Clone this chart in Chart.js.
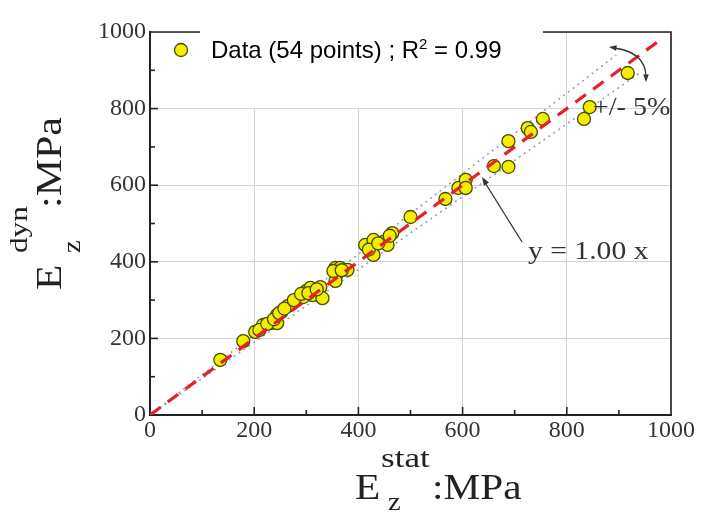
<!DOCTYPE html>
<html><head><meta charset="utf-8">
<script src="https://cdn.jsdelivr.net/npm/chart.js@4/dist/chart.umd.min.js"></script>
<style>html,body{margin:0;padding:0;background:#fff}</style>
</head><body>
<canvas id="c" width="704" height="514"></canvas>
<script>
// ---- data ----
const statValues = [135,179,202,217,231,244,244,252,265,294,300,308,312,327,331,356,365,358,379,356,
  413,429,429,448,456,465,500,567,592,606,606,660,688,688,725,731,754,833,844,917,
  210,225,238,248,258,276,290,304,320,352,368,420,438,460];
const dynValues = [144,193,217,235,240,240,261,269,285,308,324,332,313,334,305,384,384,366,379,350,
  444,457,418,452,444,475,517,564,593,614,593,650,648,715,749,739,773,773,804,893,
  222,238,250,266,278,300,316,318,328,376,378,432,448,468];
const tickValues = [0,200,400,600,800,1000];
const minorTickValues = [100,300,500,700,900];
const identityX = [0,975];
const identityY = [0,975];
const upperX = [0,895];
const upperY = [0,940];
const lowerX = [0,940];
const lowerY = [0,893];
const legendText = ['Data (54 points) ; R', '2', ' = 0.99'];
const fitLabel = 'y = 1.00 x';
const bandLabel = '+/- 5%';

const pts = statValues.map((x,i)=>({x, y: dynValues[i]}));
const toXY = (xs,ys)=>xs.map((x,i)=>({x,y:ys[i]}));

const SERIF = '"Liberation Serif", "DejaVu Serif", serif';
const SANS = '"Liberation Sans", Arial, sans-serif';

function arrowHead(ctx, x, y, ang, len){
  ctx.beginPath();
  ctx.moveTo(x,y);
  ctx.lineTo(x - len*Math.cos(ang-0.35), y - len*Math.sin(ang-0.35));
  ctx.lineTo(x - len*Math.cos(ang+0.35), y - len*Math.sin(ang+0.35));
  ctx.closePath();
  ctx.fill();
}
function txt(ctx, s, x, y, size, sx){
  ctx.save();
  ctx.translate(x, y); ctx.scale(sx, 1);
  ctx.font = size + 'px ' + SERIF;
  ctx.fillText(s, 0, 0);
  ctx.restore();
}

const decor = {
  id:'decor',
  afterDraw(chart){
    const ctx = chart.ctx, xs = chart.scales.x, ys = chart.scales.y, a = chart.chartArea;
    ctx.save();
    // top & right borders
    ctx.strokeStyle = '#222'; ctx.lineWidth = 1.6;
    ctx.beginPath(); ctx.moveTo(a.left, a.top); ctx.lineTo(a.right, a.top); ctx.lineTo(a.right, a.bottom); ctx.stroke();
    // inward ticks
    const all = tickValues.slice(1,-1).map(v=>[v,8]).concat(minorTickValues.map(v=>[v,5]));
    all.forEach(([v,l])=>{
      const px = xs.getPixelForValue(v), py = ys.getPixelForValue(v);
      ctx.beginPath(); ctx.moveTo(px, a.bottom); ctx.lineTo(px, a.bottom - l); ctx.stroke();
      ctx.beginPath(); ctx.moveTo(a.left, py); ctx.lineTo(a.left + l, py); ctx.stroke();
    });
    // legend box
    ctx.fillStyle = '#fff';
    ctx.fillRect(200, 17, 343, 91);
    ctx.fillRect(160, 36, 45, 72);
    ctx.beginPath(); ctx.arc(181, 50, 6.5, 0, Math.PI*2);
    ctx.fillStyle = '#f3ee00'; ctx.fill();
    ctx.strokeStyle = '#4a4a00'; ctx.lineWidth = 1.3; ctx.stroke();
    ctx.fillStyle = '#000';
    ctx.textBaseline = 'alphabetic'; ctx.textAlign = 'left';
    ctx.font = '24px ' + SANS;
    let tx = 211; const ty = 58;
    ctx.fillText(legendText[0], tx, ty); tx += ctx.measureText(legendText[0]).width;
    ctx.font = '15px ' + SANS;
    ctx.fillText(legendText[1], tx, ty - 9); tx += ctx.measureText(legendText[1]).width;
    ctx.font = '24px ' + SANS;
    ctx.fillText(legendText[2], tx, ty);

    // annotations
    ctx.fillStyle = '#333'; ctx.strokeStyle = '#333';
    txt(ctx, fitLabel, 528, 259, 26, 1.14);
    txt(ctx, bandLabel, 593, 115, 25, 1.12);
    ctx.lineWidth = 1.3;
    ctx.beginPath(); ctx.moveTo(522, 242); ctx.lineTo(484, 181); ctx.stroke();
    arrowHead(ctx, 482, 177, Math.atan2(177-242, 482-522), 9);
    // curved double arrow
    ctx.beginPath(); ctx.moveTo(614, 48); ctx.quadraticCurveTo(645, 52, 646, 76); ctx.stroke();
    arrowHead(ctx, 609, 47, Math.atan2(47-50, 609-630), 8);
    arrowHead(ctx, 646, 82, Math.PI/2, 8);

    // axis titles
    ctx.fillStyle = '#222';
    txt(ctx, 'E', 355, 499, 35, 1.18);
    txt(ctx, 'stat', 381, 467, 27, 1.3);
    txt(ctx, 'z', 388, 510, 26, 1.1);
    txt(ctx, ':MPa', 432, 499, 35, 1.18);
    ctx.save();
    ctx.translate(61, 290); ctx.rotate(-Math.PI/2);
    txt(ctx, 'E', 0, 0, 35, 1.18);
    txt(ctx, 'dyn', 37, -34, 26, 1.2);
    txt(ctx, 'z', 37, 19, 26, 1.1);
    txt(ctx, ':MPa', 82, 0, 35, 1.2);
    ctx.restore();
    ctx.restore();
  }
};

new Chart(document.getElementById('c'), {
  type:'scatter',
  data:{datasets:[
    {type:'line', data: toXY(identityX, identityY), borderColor:'#e3202b', borderWidth:3.2, borderDash:[13,9], pointRadius:0, fill:false, order:0},
    {data: pts, backgroundColor:'#f3ee00', borderColor:'#4a4a00', borderWidth:1.3, pointRadius:6.5, pointHoverRadius:6.5, order:1},
    {type:'line', data: toXY(upperX, upperY), borderColor:'#9aa0aa', borderWidth:1.6, borderDash:[2,4], pointRadius:0, fill:false, order:2},
    {type:'line', data: toXY(lowerX, lowerY), borderColor:'#9aa0aa', borderWidth:1.6, borderDash:[2,4], pointRadius:0, fill:false, order:3}
  ]},
  options:{
    responsive:false, animation:false,
    layout:{padding:{top:32, right:33, left:0, bottom:0}},
    plugins:{legend:{display:false}, tooltip:{enabled:false}},
    scales:{
      x:{type:'linear', min:0, max:1000,
        afterBuildTicks(s){ s.ticks = tickValues.map(v=>({value:v})); },
        afterFit(s){ s.height = 99; },
        ticks:{font:{family:SERIF, size:24}, color:'#333', padding:1, callback:v=>String(v)},
        grid:{color:'#d4d4d4', lineWidth:1, drawTicks:false},
        border:{color:'#222', width:2}},
      y:{type:'linear', min:0, max:1000,
        afterBuildTicks(s){ s.ticks = tickValues.map(v=>({value:v})); },
        afterFit(s){ s.width = 150; },
        ticks:{font:{family:SERIF, size:24}, color:'#333', padding:4, callback:v=>String(v)},
        grid:{color:'#d4d4d4', lineWidth:1, drawTicks:false},
        border:{color:'#222', width:2}}
    }
  },
  plugins:[decor]
});
</script>
</body></html>
